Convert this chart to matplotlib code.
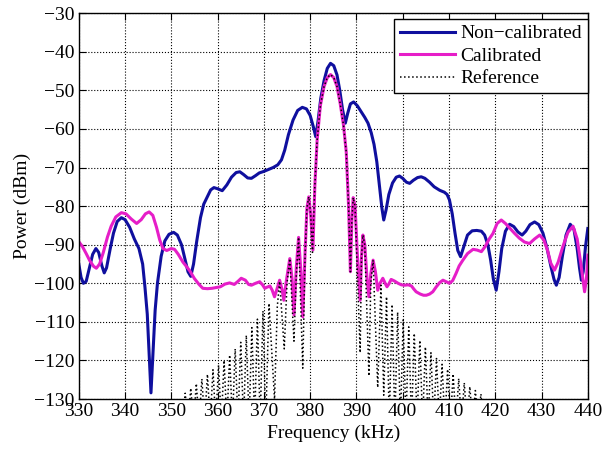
import matplotlib.pyplot as plt

plt.rcParams['font.family'] = 'serif'
plt.rcParams['font.serif'] = ['Liberation Serif', 'DejaVu Serif']
plt.rcParams['font.size'] = 14

# Non-calibrated spectrum (kHz, dBm)
noncal_freq = [
    330.0, 330.5, 331.0, 331.6, 332.3, 333.0, 333.7, 334.3, 335.0, 335.5,
    336.0, 336.8, 337.5, 338.3, 339.2, 340.0, 341.0, 342.0, 343.0, 343.8,
    344.3, 344.8, 345.2, 345.6, 346.0, 346.5, 347.0, 347.8, 348.6, 349.5,
    350.5, 351.3, 352.2, 353.0, 353.6, 354.2, 354.8, 355.5, 356.3, 357.0,
    357.8, 358.5, 359.2, 360.0, 361.0, 362.0, 363.0, 364.0, 364.8, 365.6,
    366.5, 367.3, 368.2, 369.0, 370.0, 371.0, 372.0, 373.0, 373.8, 374.5,
    375.3, 376.3, 377.3, 378.3, 379.2, 380.0, 380.7, 381.2, 381.7, 382.3,
    383.0, 383.7, 384.4, 385.1, 385.8, 386.4, 387.0, 387.6, 388.1, 388.7,
    389.4, 390.2, 391.0, 391.8, 392.5, 393.2, 393.8, 394.4, 395.0, 395.5,
    395.9, 396.4, 397.0, 397.8, 398.6, 399.3, 400.0, 400.8, 401.5, 402.3,
    403.2, 404.0, 404.8, 405.8, 406.8, 408.0, 409.0, 409.6, 410.1, 410.7,
    411.3, 411.9, 412.5, 413.2, 414.0, 415.0, 416.0, 417.0, 417.7, 418.4,
    419.0, 419.6, 420.2, 420.8, 421.4, 422.2, 423.1, 424.0, 424.9, 425.8,
    426.6, 427.5, 428.5, 429.4, 430.3, 431.2, 432.0, 432.7, 433.2, 433.8,
    434.5, 435.3, 436.2, 437.0, 437.7, 438.2, 438.6, 439.0, 439.5, 440.0,
]
noncal_power = [
    -95.0, -98.5, -100.0, -99.5, -96.0, -92.5, -91.0, -92.0, -95.5, -97.3,
    -96.0, -91.0, -87.0, -84.0, -83.0, -83.5, -85.5, -88.5, -91.0, -95.0,
    -101.0, -108.0, -118.0, -128.4, -119.0, -107.0, -100.0, -93.0, -89.0, -87.3,
    -86.8, -87.5, -90.0, -94.0, -97.0, -98.2, -95.0, -89.0, -83.0, -79.5,
    -77.5, -75.8, -75.2, -75.5, -76.0, -74.5, -72.5, -71.3, -71.1, -71.8,
    -72.7, -72.8, -72.1, -71.4, -71.0, -70.5, -70.0, -69.3, -68.0, -65.5,
    -61.5, -57.7, -55.2, -54.4, -54.8, -56.5, -59.5, -62.0, -58.0, -52.0,
    -47.5, -44.3, -43.0, -43.6, -46.0, -50.0, -55.0, -58.5, -56.0, -53.5,
    -53.0, -54.0, -55.5, -57.0, -58.5, -61.0, -64.0, -68.5, -75.0, -80.5,
    -83.6, -81.0, -77.0, -74.0, -72.5, -72.2, -72.8, -73.8, -74.1, -73.3,
    -72.6, -72.4, -72.8, -73.8, -75.0, -75.9, -76.4, -77.0, -78.4, -82.0,
    -87.0, -91.5, -93.1, -90.5, -87.5, -86.4, -86.3, -86.5, -87.5, -90.0,
    -94.0, -99.0, -101.8, -97.0, -91.0, -86.5, -84.7, -85.3, -86.7, -87.5,
    -86.5, -84.8, -84.1, -84.8, -87.0, -91.0, -95.5, -99.0, -100.5, -98.5,
    -93.0, -87.5, -84.7, -86.0, -91.0, -96.0, -99.2, -97.0, -90.5, -85.8,
]

# Calibrated spectrum
cal_freq = [
    330.0, 330.8, 331.6, 332.4, 333.2, 333.8, 334.5, 335.3, 336.2, 337.0,
    338.0, 339.2, 340.2, 341.3, 342.5, 343.5, 344.4, 345.2, 346.0, 346.8,
    347.5, 348.2, 349.0, 350.0, 350.7, 351.5, 352.5, 353.3, 354.0, 355.0,
    356.0, 356.8, 357.8, 358.8, 359.7, 360.6, 361.6, 362.6, 363.6, 364.4,
    365.1, 366.0, 366.7, 367.3, 368.2, 369.1, 369.7, 370.2, 370.7, 371.3,
    371.8, 372.3, 372.8, 373.4, 373.9, 374.3, 374.9, 375.6, 376.1, 376.5,
    377.0, 377.5, 378.0, 378.4, 378.9, 379.3, 379.7, 380.1, 380.6, 381.0,
    381.5, 382.2, 383.0, 383.7, 384.4, 385.1, 385.8, 386.5, 387.2, 387.8,
    388.3, 388.7, 389.0, 389.3, 389.7, 390.3, 390.8, 391.1, 391.4, 391.8,
    392.3, 392.7, 393.1, 393.6, 394.1, 394.6, 395.1, 395.7, 396.2, 396.6,
    397.0, 397.5, 398.2, 399.0, 399.7, 400.4, 401.2, 401.9, 402.4, 402.9,
    403.8, 404.5, 405.1, 405.8, 406.5, 407.2, 408.0, 408.7, 409.4, 410.1,
    410.8, 411.5, 412.2, 413.0, 414.0, 415.2, 416.1, 417.0, 417.8, 418.7,
    419.5, 420.4, 421.3, 422.2, 423.2, 424.2, 425.2, 426.3, 427.4, 428.5,
    429.6, 430.5, 431.3, 432.0, 432.8, 433.6, 434.6, 435.7, 436.8, 437.7,
    438.5, 439.3, 439.7, 440.0,
]
cal_power = [
    -89.2, -90.5, -92.3, -94.2, -95.6, -96.1, -95.0, -92.0, -88.0, -85.2,
    -82.8, -81.7, -82.0, -83.3, -84.5, -83.5, -82.0, -81.5, -82.4, -85.5,
    -88.8, -91.0, -91.5, -91.0, -91.2, -92.5, -94.5, -95.7, -96.8, -98.8,
    -100.3, -101.3, -101.4, -101.3, -101.1, -100.9, -100.2, -99.9, -100.3, -99.5,
    -98.7, -99.2, -100.3, -100.5, -100.0, -99.6, -100.4, -101.3, -101.0, -100.7,
    -101.8, -103.5, -101.6, -99.2, -101.5, -104.4, -99.0, -93.6, -99.0, -108.2,
    -96.0, -88.1, -97.0, -108.7, -92.0, -80.5, -77.6, -82.0, -91.4, -75.0,
    -63.0, -54.0, -49.0, -46.7, -45.9, -46.7, -49.0, -53.5, -59.0, -66.0,
    -80.0, -97.0, -84.0, -77.8, -80.0, -95.0, -104.4, -93.0, -87.5, -90.0,
    -99.0, -103.5, -97.5, -94.0, -97.0, -101.8, -100.0, -98.7, -100.0, -100.9,
    -100.2, -99.0, -99.4, -100.0, -100.4, -100.5, -100.4, -100.7, -101.5, -102.2,
    -102.8, -103.1, -103.1, -102.8, -102.2, -101.0, -99.8, -99.2, -99.6, -100.0,
    -99.3, -97.5, -95.5, -94.0, -92.3, -91.2, -91.4, -91.8, -90.5, -88.5,
    -87.1, -84.5, -83.6, -84.5, -85.8, -87.1, -88.3, -89.3, -89.7, -88.5,
    -87.5, -88.8, -91.5, -94.8, -96.6, -94.5, -90.5, -86.8, -85.2, -88.5,
    -95.0, -102.2, -99.0, -92.7,
]

# Reference spectrum: lobe peaks and nulls
ref_freq = [
    352.4, 353.0, 353.6, 354.2, 354.8, 355.4, 356.0, 356.6, 357.2, 357.8,
    358.4, 359.0, 359.6, 360.2, 360.8, 361.4, 362.0, 362.6, 363.2, 363.8,
    364.4, 365.0, 365.6, 366.2, 366.8, 367.4, 368.0, 368.6, 369.2, 369.8,
    370.4, 371.1, 372.3, 372.9, 373.4, 374.4, 375.0, 375.6, 376.5, 377.0,
    377.5, 378.4, 378.9, 379.3, 379.7, 380.1, 380.5, 381.0, 381.5, 382.2,
    383.0, 383.7, 384.4, 385.1, 385.8, 386.5, 387.2, 387.8, 388.3, 388.7,
    389.0, 389.3, 389.7, 390.8, 391.1, 391.4, 391.8, 392.7, 393.1, 393.6,
    394.6, 395.3, 395.9, 396.5, 397.1, 397.7, 398.3, 398.9, 399.5, 400.1,
    400.7, 401.3, 401.9, 402.5, 403.1, 403.7, 404.3, 404.9, 405.5, 406.1,
    406.7, 407.3, 407.9, 408.5, 409.1, 409.7, 410.3, 410.9, 411.5, 412.1,
    412.7, 413.3, 413.9, 414.5, 415.1, 415.7, 416.3, 416.9, 417.5,
]
ref_power = [
    -136.0, -128.5, -136.0, -127.2, -136.0, -126.0, -136.0, -124.8, -136.0, -123.6,
    -136.0, -122.4, -136.0, -121.2, -136.0, -120.0, -136.0, -118.6, -136.0, -117.0,
    -136.0, -115.3, -136.0, -113.5, -136.0, -111.5, -136.0, -109.3, -136.0, -107.2,
    -136.0, -105.2, -130.0, -106.0, -99.5, -117.0, -100.0, -93.6, -115.0, -98.0,
    -88.1, -122.0, -93.0, -80.5, -77.6, -82.0, -92.0, -75.0, -63.0, -54.0,
    -49.0, -46.7, -45.9, -46.7, -49.0, -53.5, -59.0, -66.0, -80.0, -97.0,
    -84.0, -77.8, -80.0, -118.0, -93.0, -87.5, -90.0, -124.0, -100.0, -94.0,
    -127.0, -100.5, -129.0, -103.5, -136.0, -105.5, -136.0, -107.5, -136.0, -109.5,
    -136.0, -111.3, -136.0, -113.0, -136.0, -114.8, -136.0, -116.5, -136.0, -118.0,
    -136.0, -119.5, -136.0, -121.0, -136.0, -122.3, -136.0, -123.5, -136.0, -124.7,
    -136.0, -125.8, -136.0, -126.8, -136.0, -127.8, -136.0, -128.7, -136.0,
]

fig = plt.figure(figsize=(6.06, 4.55), dpi=100)
ax = fig.add_axes([0.130, 0.123, 0.840, 0.848])

ax.plot(noncal_freq, noncal_power, color='#0f0f9e', lw=2.2, label='Non\u2212calibrated')
ax.plot(cal_freq, cal_power, color='#e61ec8', lw=2.2, label='Calibrated')
ax.plot(ref_freq, ref_power, color='black', lw=1.1, ls=':', label='Reference')

ax.set_xlim(330, 440)
ax.set_ylim(-130, -30)
ax.set_xticks(range(330, 441, 10))
ax.set_yticks(range(-130, -29, 10))
ax.grid(True, color='black', ls=':', lw=0.8)
ax.tick_params(direction='in', top=True, right=True, length=5, pad=3)
for s in ax.spines.values():
    s.set_linewidth(1.0)

ax.set_xlabel('Frequency (kHz)', labelpad=3)
ax.set_ylabel('Power (dBm)', labelpad=2)

leg = ax.legend(loc='upper right', bbox_to_anchor=(1.0, 0.985), borderaxespad=0,
                fancybox=False, framealpha=1, edgecolor='black',
                handlelength=2.8, handletextpad=0.3, borderpad=0.3,
                labelspacing=0.25)
leg.get_frame().set_linewidth(1.0)

fig.savefig('out.png', dpi=100)
